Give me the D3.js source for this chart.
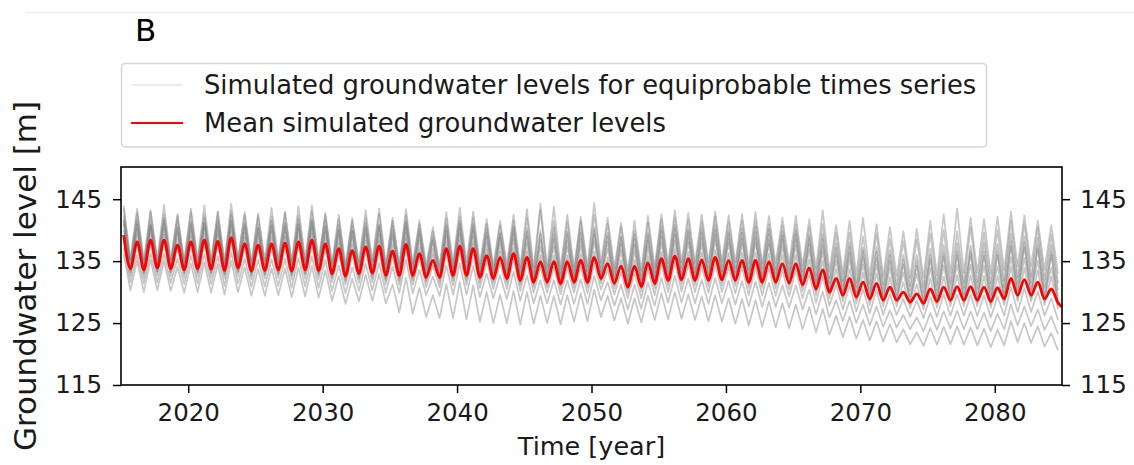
<!DOCTYPE html>
<html>
<head>
<meta charset="utf-8">
<script src="https://cdn.jsdelivr.net/npm/d3@7"></script>
<style>
  body { margin: 0; background: #fff; }
  svg { font-family: "DejaVu Sans", sans-serif; }
</style>
</head>
<body>
<div id="chart"></div>
<script>
// years of the simulation, one high and one low level per year
const startYear = 2015
const endYear = 2085
const years = d3.range(startYear, endYear)

const xTicks = [2020, 2030, 2040, 2050, 2060, 2070, 2080]
const yTicks = [115, 125, 135, 145]

// mean simulated groundwater level: yearly high and low (m)
const meanPeaks = [
  139.2, 138.1, 138.4, 138.4, 137.6, 138.1, 138.4, 138.2, 138.8, 137.8,
  137.6, 137.8, 137.9, 138.1, 138.4, 137.8, 137.0, 136.7, 137.3, 137.4,
  136.6, 137.7, 136.2, 135.1, 137.0, 137.4, 137.0, 135.9, 135.6, 136.2,
  135.6, 134.9, 134.9, 134.9, 135.1, 135.6, 134.6, 134.2, 134.2, 134.7,
  135.4, 135.8, 135.4, 135.2, 135.6, 135.1, 135.1, 135.1, 134.9, 134.6,
  134.6, 133.9, 133.6, 132.2, 132.2, 131.6, 131.4, 130.8, 130.0, 129.7,
  130.5, 130.8, 130.9, 130.9, 130.8, 130.7, 132.2, 132.0, 131.6, 130.5
]
const meanTroughs = [
  133.8, 133.6, 133.9, 133.8, 133.6, 133.8, 133.7, 133.5, 133.9, 133.4,
  133.5, 133.6, 133.4, 133.6, 133.5, 133.0, 132.6, 133.0, 133.1, 132.7,
  132.7, 132.7, 132.4, 132.4, 132.7, 132.7, 132.4, 132.2, 132.2, 131.9,
  131.6, 131.6, 131.4, 131.6, 131.6, 132.2, 131.4, 130.8, 130.9, 131.4,
  131.9, 132.0, 131.9, 131.9, 132.0, 131.9, 131.6, 131.6, 131.6, 131.5,
  131.2, 130.5, 130.0, 129.5, 129.2, 128.9, 128.7, 128.7, 128.4, 128.2,
  128.5, 128.7, 128.7, 128.7, 128.5, 128.9, 129.5, 129.5, 128.9, 128.3
]
const meanEnd = 127.6

// equiprobable simulated series: yearly highs (m)
const simPeaks = [
  [144.0, 143.5, 143.2, 144.1, 142.6, 143.5, 144.0, 143.0, 144.3, 142.9,
   142.7, 143.6, 143.0, 143.9, 144.0, 142.8, 142.5, 142.0, 143.2, 143.5,
   142.0, 143.4, 141.6, 140.5, 142.9, 143.6, 143.0, 141.8, 141.5, 142.5,
   143.4, 144.3, 143.8, 142.5, 142.2, 144.4, 142.0, 141.2, 141.5, 142.3,
   142.6, 143.2, 142.8, 142.5, 143.0, 142.4, 142.6, 142.9, 142.3, 142.0,
   142.3, 141.8, 143.2, 140.8, 141.5, 142.0, 141.0, 140.5, 139.8, 140.2,
   141.5, 142.6, 143.5, 142.0, 141.8, 142.2, 143.0, 142.4, 141.5, 140.8],
  [143.5, 142.8, 143.0, 142.6, 142.3, 142.9, 142.6, 142.9, 143.0, 142.5,
   142.3, 142.2, 142.8, 142.4, 143.0, 142.5, 141.8, 141.5, 142.0, 142.6,
   141.5, 142.5, 141.0, 139.8, 141.8, 142.2, 142.0, 141.0, 140.8, 141.5,
   142.0, 143.2, 141.5, 141.3, 141.5, 142.5, 141.0, 140.4, 140.0, 141.2,
   141.8, 142.0, 141.6, 141.4, 142.2, 141.3, 141.5, 141.6, 141.0, 140.8,
   140.9, 140.5, 141.0, 139.5, 139.6, 139.0, 139.5, 138.6, 138.2, 138.5,
   139.5, 140.0, 139.8, 140.5, 139.6, 140.0, 141.5, 141.0, 140.4, 139.3],
  [142.4, 141.8, 141.6, 142.0, 141.3, 141.5, 142.0, 141.6, 142.5, 141.2,
   141.0, 141.5, 141.3, 141.8, 141.7, 141.5, 140.8, 140.6, 141.2, 141.0,
   140.7, 141.5, 140.2, 139.0, 140.8, 141.5, 141.0, 140.2, 139.6, 140.6,
   140.3, 140.0, 140.4, 139.8, 140.2, 140.5, 139.6, 139.0, 139.4, 139.6,
   140.5, 140.8, 140.2, 140.3, 140.8, 140.0, 140.3, 140.5, 140.2, 139.8,
   140.0, 139.2, 139.4, 137.9, 138.0, 137.2, 137.3, 136.8, 136.0, 136.0,
   137.0, 137.6, 137.9, 137.5, 138.0, 137.8, 139.5, 139.0, 138.8, 137.7],
  [141.8, 141.3, 141.0, 141.6, 140.5, 141.2, 141.2, 141.4, 141.5, 140.9,
   140.4, 140.9, 141.0, 141.0, 141.5, 140.6, 140.0, 139.9, 140.2, 140.5,
   139.5, 140.6, 139.3, 138.2, 139.9, 140.3, 140.0, 139.0, 138.9, 139.4,
   139.0, 138.5, 138.6, 138.3, 138.6, 139.3, 138.1, 137.8, 137.7, 138.3,
   139.0, 139.3, 138.9, 138.8, 139.3, 138.6, 138.7, 138.8, 138.4, 138.5,
   138.5, 137.8, 137.6, 136.2, 136.3, 135.7, 135.5, 135.0, 134.5, 134.2,
   135.3, 135.8, 136.0, 136.2, 135.9, 136.0, 137.5, 137.3, 137.0, 136.0],
  [141.0, 140.2, 140.6, 140.2, 139.7, 140.0, 140.5, 140.0, 140.9, 139.6,
   139.5, 139.9, 139.8, 140.2, 140.3, 139.8, 139.0, 138.8, 139.4, 139.3,
   138.7, 139.6, 138.3, 137.0, 139.0, 139.5, 139.0, 138.0, 137.8, 138.5,
   137.9, 137.3, 137.4, 137.3, 137.5, 138.2, 137.0, 136.7, 136.6, 137.3,
   137.9, 138.3, 138.0, 137.8, 138.4, 137.9, 137.9, 138.0, 137.8, 137.4,
   137.5, 136.8, 136.5, 135.1, 135.2, 134.5, 134.4, 133.9, 133.2, 133.0,
   133.9, 134.3, 134.4, 134.4, 134.3, 134.2, 135.7, 135.5, 135.1, 134.0],
  [140.0, 139.2, 139.5, 139.3, 138.6, 139.1, 139.4, 139.1, 139.8, 138.8,
   138.6, 138.8, 138.9, 139.1, 139.4, 138.8, 138.0, 137.7, 138.3, 138.4,
   137.6, 138.7, 137.2, 136.1, 138.0, 138.4, 138.0, 136.9, 136.6, 137.2,
   136.6, 135.9, 135.9, 135.9, 136.1, 136.6, 135.6, 135.2, 135.2, 135.8,
   136.5, 136.9, 136.5, 136.4, 136.8, 136.3, 136.4, 136.4, 136.2, 136.0,
   136.0, 135.3, 135.0, 133.7, 133.7, 133.1, 133.0, 132.4, 131.6, 131.3,
   132.2, 132.5, 132.7, 132.7, 132.6, 132.6, 134.1, 133.9, 133.5, 132.5],
  [138.7, 137.6, 137.9, 137.9, 137.0, 137.5, 137.8, 137.6, 138.2, 137.2,
   137.0, 137.1, 137.2, 137.4, 137.7, 137.1, 136.2, 135.9, 136.5, 136.6,
   135.8, 136.9, 135.4, 134.3, 136.2, 136.5, 136.1, 135.0, 134.7, 135.3,
   134.7, 134.0, 134.0, 134.0, 134.1, 134.6, 133.6, 133.2, 133.2, 133.7,
   134.4, 134.8, 134.4, 134.2, 134.6, 134.1, 134.1, 134.1, 133.9, 133.6,
   133.6, 132.9, 132.6, 131.2, 131.1, 130.5, 130.3, 129.7, 128.9, 128.6,
   129.3, 129.6, 129.6, 129.6, 129.5, 129.3, 130.8, 130.6, 130.1, 129.0],
  [137.2, 136.0, 136.3, 136.2, 135.4, 135.9, 136.1, 135.8, 136.4, 135.4,
   135.2, 135.3, 135.4, 135.5, 135.8, 135.2, 134.3, 134.0, 134.6, 134.7,
   134.1, 135.2, 133.6, 132.5, 134.3, 134.6, 134.2, 133.0, 132.7, 133.3,
   132.7, 131.9, 131.9, 131.9, 132.1, 132.6, 131.6, 131.2, 131.2, 131.6,
   132.3, 132.6, 132.2, 132.0, 132.3, 131.8, 131.8, 131.7, 131.5, 131.1,
   131.1, 130.4, 130.1, 128.7, 128.6, 128.0, 127.7, 127.1, 126.3, 125.9,
   126.6, 126.9, 127.0, 126.9, 126.7, 126.5, 128.0, 127.7, 127.2, 126.1],
  [136.2, 135.0, 135.2, 135.0, 134.1, 134.6, 134.8, 134.5, 135.0, 134.0,
   133.7, 133.8, 133.8, 133.9, 134.2, 133.5, 132.6, 132.2, 132.8, 132.9,
   131.2, 132.3, 130.7, 129.5, 131.3, 131.6, 131.1, 130.0, 129.6, 130.2,
   130.0, 129.4, 129.4, 129.5, 129.8, 130.4, 129.4, 129.0, 129.0, 129.4,
   129.8, 130.0, 129.6, 129.3, 129.5, 129.0, 128.9, 128.7, 128.5, 128.2,
   128.0, 127.6, 127.3, 126.2, 126.0, 125.5, 125.3, 124.8, 124.0, 123.5,
   124.2, 124.4, 124.5, 124.3, 124.1, 123.9, 125.3, 125.0, 124.5, 123.4],
  [141.5, 140.9, 140.7, 141.0, 140.3, 140.8, 141.1, 140.5, 141.4, 140.6,
   140.3, 140.6, 140.5, 140.9, 141.3, 140.6, 140.1, 139.8, 140.6, 140.8,
   140.0, 141.2, 139.8, 138.6, 140.5, 141.0, 140.6, 139.6, 139.4, 140.2,
   139.8, 139.4, 139.3, 139.5, 139.6, 140.1, 139.1, 138.8, 138.6, 139.3,
   140.0, 140.3, 139.9, 139.7, 140.1, 139.6, 139.6, 139.7, 139.4, 139.2,
   139.5, 138.8, 138.6, 137.2, 137.3, 136.7, 136.5, 136.0, 135.2, 135.0,
   136.0, 136.4, 136.6, 136.6, 136.6, 136.6, 138.2, 138.0, 137.6, 136.5]
]

// equiprobable simulated series: yearly lows (m)
const simTroughs = [
  [135.3, 135.0, 135.4, 135.2, 135.1, 135.4, 135.1, 135.0, 135.5, 134.9,
   135.1, 135.3, 135.0, 135.2, 135.2, 134.7, 134.4, 134.8, 135.0, 134.5,
   134.5, 134.6, 134.3, 134.2, 134.7, 134.8, 134.5, 134.3, 134.4, 134.1,
   133.9, 134.0, 133.8, 134.0, 134.1, 134.7, 133.9, 133.4, 133.5, 134.0,
   134.6, 134.8, 134.7, 134.8, 134.9, 134.8, 134.6, 134.6, 134.7, 134.6,
   134.3, 133.8, 133.4, 133.0, 132.8, 132.6, 132.5, 132.6, 132.3, 132.3,
   132.7, 133.0, 133.1, 133.2, 133.0, 133.5, 134.1, 134.2, 133.6, 133.0],
  [134.8, 134.6, 134.8, 134.7, 134.6, 134.8, 134.7, 134.5, 134.9, 134.4,
   134.5, 134.7, 134.5, 134.7, 134.6, 134.1, 133.8, 134.2, 134.3, 133.9,
   133.9, 133.9, 133.6, 133.7, 134.0, 134.0, 133.7, 133.5, 133.6, 133.3,
   133.1, 133.1, 133.0, 133.2, 133.3, 133.9, 133.1, 132.6, 132.7, 133.2,
   133.8, 133.9, 133.8, 133.9, 134.0, 133.9, 133.6, 133.7, 133.7, 133.6,
   133.3, 132.6, 132.2, 131.8, 131.5, 131.3, 131.2, 131.2, 131.0, 130.9,
   131.2, 131.5, 131.5, 131.6, 131.4, 131.8, 132.4, 132.5, 132.0, 131.4],
  [134.3, 134.1, 134.4, 134.3, 134.1, 134.3, 134.2, 134.1, 134.5, 133.9,
   134.1, 134.2, 134.0, 134.2, 134.1, 133.6, 133.3, 133.7, 133.9, 133.5,
   133.5, 133.5, 133.2, 133.2, 133.5, 133.5, 133.2, 133.1, 133.1, 132.8,
   132.5, 132.6, 132.4, 132.6, 132.6, 133.2, 132.4, 131.9, 132.0, 132.5,
   133.0, 133.2, 133.1, 133.1, 133.3, 133.2, 132.9, 132.9, 133.0, 132.9,
   132.6, 131.9, 131.5, 131.0, 130.8, 130.5, 130.4, 130.4, 130.2, 130.0,
   130.3, 130.6, 130.6, 130.6, 130.4, 130.8, 131.4, 131.5, 130.9, 130.3],
  [134.0, 133.8, 134.1, 134.0, 133.8, 134.0, 133.9, 133.7, 134.1, 133.6,
   133.7, 133.8, 133.6, 133.8, 133.7, 133.2, 132.9, 133.3, 133.4, 133.0,
   133.0, 133.0, 132.7, 132.7, 133.0, 133.1, 132.8, 132.6, 132.6, 132.3,
   132.0, 132.0, 131.9, 132.1, 132.1, 132.7, 131.9, 131.3, 131.4, 131.9,
   132.5, 132.6, 132.5, 132.5, 132.7, 132.6, 132.3, 132.3, 132.4, 132.3,
   132.0, 131.3, 130.8, 130.3, 130.1, 129.8, 129.6, 129.6, 129.3, 129.2,
   129.4, 129.6, 129.7, 129.7, 129.5, 129.9, 130.5, 130.5, 129.9, 129.3],
  [133.6, 133.4, 133.7, 133.6, 133.4, 133.6, 133.5, 133.3, 133.7, 133.2,
   133.3, 133.4, 133.2, 133.4, 133.3, 132.8, 132.4, 132.8, 132.9, 132.5,
   132.5, 132.5, 132.2, 132.2, 132.6, 132.6, 132.3, 132.1, 132.1, 131.8,
   131.5, 131.6, 131.4, 131.6, 131.6, 132.2, 131.4, 130.8, 130.9, 131.4,
   131.9, 132.0, 131.9, 131.9, 132.0, 131.9, 131.6, 131.6, 131.6, 131.5,
   131.2, 130.5, 130.0, 129.5, 129.3, 129.0, 128.8, 128.8, 128.5, 128.3,
   128.6, 128.8, 128.8, 128.8, 128.6, 129.0, 129.6, 129.6, 129.0, 128.4],
  [133.2, 133.0, 133.3, 133.2, 133.0, 133.2, 133.0, 132.8, 133.2, 132.7,
   132.8, 132.9, 132.7, 132.9, 132.8, 132.3, 131.8, 132.2, 132.3, 131.9,
   131.9, 131.9, 131.6, 131.6, 131.9, 131.9, 131.6, 131.4, 131.4, 131.1,
   130.8, 130.8, 130.6, 130.8, 130.8, 131.4, 130.6, 130.0, 130.1, 130.6,
   131.1, 131.2, 131.1, 131.0, 131.1, 131.0, 130.7, 130.7, 130.6, 130.5,
   130.2, 129.5, 129.0, 128.5, 128.2, 127.9, 127.7, 127.7, 127.4, 127.2,
   127.5, 127.7, 127.7, 127.7, 127.5, 127.9, 128.5, 128.5, 127.9, 127.3],
  [132.6, 132.4, 132.7, 132.6, 132.4, 132.5, 132.4, 132.2, 132.6, 132.1,
   132.2, 132.3, 132.0, 132.2, 132.1, 131.6, 131.2, 131.5, 131.6, 131.2,
   131.2, 131.2, 130.8, 130.8, 131.1, 131.1, 130.7, 130.5, 130.5, 130.2,
   129.9, 129.9, 129.7, 129.9, 129.8, 130.4, 129.6, 129.0, 129.0, 129.5,
   130.0, 130.1, 130.0, 129.9, 130.0, 129.8, 129.5, 129.5, 129.4, 129.3,
   129.0, 128.3, 127.8, 127.2, 126.9, 126.6, 126.3, 126.3, 126.0, 125.8,
   126.0, 126.2, 126.2, 126.1, 125.9, 126.2, 126.8, 126.8, 126.2, 125.5],
  [131.6, 131.4, 131.6, 131.5, 131.3, 131.4, 131.3, 131.0, 131.4, 130.9,
   130.9, 131.0, 130.7, 130.9, 130.7, 130.2, 129.8, 130.2, 130.3, 129.9,
   129.9, 129.8, 129.5, 129.4, 129.6, 129.6, 129.2, 129.0, 128.9, 128.6,
   128.2, 128.2, 128.0, 128.1, 128.1, 128.7, 127.8, 127.2, 127.3, 127.8,
   128.3, 128.3, 128.2, 128.1, 128.2, 128.0, 127.7, 127.6, 127.6, 127.5,
   127.2, 126.4, 125.9, 125.3, 125.0, 124.6, 124.4, 124.3, 124.0, 123.7,
   123.9, 124.1, 124.0, 124.0, 123.7, 124.0, 124.6, 124.5, 123.9, 123.2],
  [130.3, 130.0, 130.3, 130.2, 129.9, 130.0, 129.9, 129.6, 130.0, 129.4,
   129.4, 129.5, 129.2, 129.3, 129.1, 128.6, 128.1, 128.5, 128.6, 128.2,
   126.7, 126.5, 126.0, 125.8, 125.8, 125.6, 125.2, 125.0, 125.0, 124.8,
   124.9, 125.0, 124.8, 125.2, 125.3, 126.0, 125.4, 124.9, 125.1, 125.5,
   125.6, 125.7, 125.5, 125.3, 125.2, 124.9, 124.6, 124.4, 124.3, 124.2,
   124.0, 123.5, 123.1, 122.7, 122.5, 122.2, 122.0, 121.9, 121.6, 121.3,
   121.5, 121.6, 121.5, 121.4, 121.1, 121.4, 121.9, 121.8, 121.2, 120.6],
  [133.3, 133.1, 133.4, 133.3, 133.1, 133.3, 133.2, 133.0, 133.4, 132.9,
   133.0, 133.1, 132.9, 133.1, 133.0, 132.5, 132.1, 132.5, 132.6, 132.2,
   132.2, 132.2, 131.9, 131.9, 132.2, 132.3, 132.0, 131.8, 131.8, 131.5,
   131.2, 131.2, 131.1, 131.3, 131.3, 131.9, 131.1, 130.5, 130.6, 131.1,
   131.6, 131.7, 131.6, 131.6, 131.7, 131.6, 131.3, 131.3, 131.3, 131.2,
   130.9, 130.2, 129.7, 129.2, 128.9, 128.6, 128.4, 128.4, 128.1, 127.9,
   128.2, 128.3, 128.3, 128.3, 128.1, 128.5, 129.1, 129.1, 128.5, 127.9]
]

const legendLabels = [
  "Simulated groundwater levels for equiprobable times series",
  "Mean simulated groundwater levels"
]

const width = 1134
const height = 465
const plot = { left: 121, right: 1062, top: 167, bottom: 385 }

const svg = d3.select("#chart")
  .append("svg")
  .attr("width", width)
  .attr("height", height)

// faint frame edge along the top of the figure
svg.append("line")
  .attr("x1", 25).attr("x2", width)
  .attr("y1", 12.5).attr("y2", 12.5)
  .attr("stroke", "#efefef")
  .attr("stroke-width", 1.5)

const x = d3.scaleLinear().domain([startYear, endYear]).range([plot.left, plot.right])
const y = d3.scaleLinear().domain([115, 150.2]).range([plot.bottom, plot.top])

// high level a little after new year, low level in the second half
const highPhase = 0.2
const lowPhase = 0.7

function toPoints(peaks, troughs, last) {
  const pts = []
  years.forEach((yr, i) => {
    pts.push([yr + highPhase, peaks[i]])
    pts.push([yr + lowPhase, troughs[i]])
  })
  if (last !== undefined) pts.push([endYear, last])
  return pts
}

svg.append("clipPath").attr("id", "plotclip")
  .append("rect")
  .attr("x", plot.left).attr("y", plot.top)
  .attr("width", plot.right - plot.left)
  .attr("height", plot.bottom - plot.top)

const lines = svg.append("g").attr("clip-path", "url(#plotclip)")

const simLine = d3.line()
  .x(d => x(d[0]))
  .y(d => y(d[1]))
  .curve(d3.curveLinear)

lines.selectAll("path.sim")
  .data(simPeaks.map((p, i) => toPoints(p, simTroughs[i])))
  .enter()
    .append("path")
    .attr("class", "sim")
    .attr("d", simLine)
    .attr("fill", "none")
    .attr("stroke", "#7a7a7a")
    .attr("stroke-opacity", 0.42)
    .attr("stroke-width", 1.7)
    .attr("stroke-linejoin", "round")

const meanLine = d3.line()
  .x(d => x(d[0]))
  .y(d => y(d[1]))
  .curve(d3.curveMonotoneX)

lines.append("path")
  .attr("d", meanLine(toPoints(meanPeaks, meanTroughs, meanEnd)))
  .attr("fill", "none")
  .attr("stroke", "#ff0000")
  .attr("stroke-width", 2.8)

// axes
const tickFont = 24.5

const xAxis = svg.append("g")
  .attr("transform", `translate(0,${plot.bottom})`)
  .call(d3.axisBottom(x).tickValues(xTicks).tickFormat(d3.format("d")).tickSize(8).tickPadding(11))
const yAxisL = svg.append("g")
  .attr("transform", `translate(${plot.left},0)`)
  .call(d3.axisLeft(y).tickValues(yTicks).tickSize(8).tickPadding(11))
const yAxisR = svg.append("g")
  .attr("transform", `translate(${plot.right},0)`)
  .call(d3.axisRight(y).tickValues(yTicks).tickSize(8).tickPadding(10))

;[xAxis, yAxisL, yAxisR].forEach(g => {
  g.select(".domain").remove()
  g.selectAll(".tick line").attr("stroke", "#000").attr("stroke-width", 1.5)
  g.selectAll(".tick text")
    .attr("fill", "#1a1a1a")
    .style("font-size", tickFont + "px")
    .style("font-family", "DejaVu Sans, sans-serif")
})

svg.append("rect")
  .attr("x", plot.left).attr("y", plot.top)
  .attr("width", plot.right - plot.left)
  .attr("height", plot.bottom - plot.top)
  .attr("fill", "none")
  .attr("stroke", "#000")
  .attr("stroke-width", 1.6)

// axis titles
svg.append("text")
  .attr("x", (plot.left + plot.right) / 2)
  .attr("y", 455)
  .attr("text-anchor", "middle")
  .attr("fill", "#1a1a1a")
  .style("font-size", "25.5px")
  .text("Time [year]")

svg.append("text")
  .attr("transform", `translate(36,276) rotate(-90)`)
  .attr("text-anchor", "middle")
  .attr("fill", "#1a1a1a")
  .style("font-size", "31px")
  .text("Groundwater level [m]")

// panel letter
svg.append("text")
  .attr("x", 135)
  .attr("y", 41)
  .attr("fill", "#000")
  .style("font-size", "31px")
  .text("B")

// legend
const legend = svg.append("g")
legend.append("rect")
  .attr("x", 121.5).attr("y", 63.5)
  .attr("width", 865).attr("height", 83.5)
  .attr("rx", 4)
  .attr("fill", "#fff")
  .attr("stroke", "#d4d4d4")
  .attr("stroke-width", 1.5)

const legendRows = [
  { label: legendLabels[0], stroke: "#808080", opacity: 0.2, width: 1.3, y: 85 },
  { label: legendLabels[1], stroke: "#ff0000", opacity: 1, width: 2.2, y: 123 }
]

legendRows.forEach(r => {
  legend.append("line")
    .attr("x1", 131).attr("x2", 183)
    .attr("y1", r.y).attr("y2", r.y)
    .attr("stroke", r.stroke)
    .attr("stroke-opacity", r.opacity)
    .attr("stroke-width", r.width)
  legend.append("text")
    .attr("x", 204)
    .attr("y", r.y + 9)
    .attr("fill", "#1a1a1a")
    .style("font-size", "25.8px")
    .text(r.label)
})
</script>
</body>
</html>
